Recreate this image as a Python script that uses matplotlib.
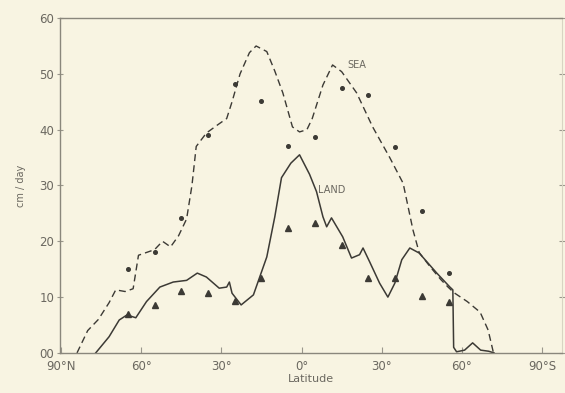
import matplotlib.pyplot as plt

# latitude: negative = north, positive = south
sea_lat = [-84, -80, -76, -72, -69.5, -66, -63, -61, -58, -55, -52, -49, -46, -43, -41,
           -39.4, -35.6, -31, -28, -26, -23, -19.5, -17, -13, -10, -7, -3.4, -0.75, 2, 4,
           8, 11.6, 15, 20.6, 26.6, 33, 38, 41.7, 44, 48, 52, 54.8, 57, 62, 66.8, 69.8, 71.8]
sea_val = [0, 4, 6, 9, 11.3, 11, 11.5, 17.5, 18, 18.5, 20, 19, 21, 24, 30,
           37, 39.4, 41, 42, 45, 50, 53.8, 55, 54, 50.5, 46.6, 40.5, 39.6, 40, 42,
           48, 51.6, 50.4, 46.6, 40.5, 35, 30.4, 22, 18, 15.5, 13.2, 11.8, 10.8, 9.2, 7.3, 4.1, 0]

land_lat = [-77, -72, -68.2, -65.3, -62, -58, -53, -48, -43, -39, -35.6, -30.8, -28, -27,
            -26, -22.6, -18, -13, -10, -7.5, -4, -0.75, 3, 5.6, 8, 9.4, 11.2, 15.4, 18.7,
            21.7, 23, 25.5, 29.2, 32.3, 34.9, 37.5, 40.5, 44, 50.6, 55.5, 56.6, 56.9, 58,
            61, 64, 67, 70, 72]
land_val = [0, 2.9, 5.9, 6.8, 6.3, 9.2, 11.8, 12.7, 13, 14.3, 13.6, 11.6, 11.8, 12.7,
            10.7, 8.6, 10.4, 17.2, 24.4, 31.4, 34, 35.5, 32, 28.9, 24.4, 22.6, 24.2, 20.8, 17,
            17.6, 18.8, 16.3, 12.5, 10, 12.5, 16.7, 18.8, 17.9, 14.3, 11.8, 11.3, 1, 0.2,
            0.5, 1.8, 0.5, 0.3, 0]

obs_lat = [-65, -55, -45, -35, -25, -15, -5, 5, 15, 25, 35, 45, 55]
sea_obs = [15, 18, 24.2, 39, 48.2, 45.2, 37.1, 38.7, 47.5, 46.2, 36.9, 25.5, 14.3]
land_obs = [7, 8.6, 11.1, 10.7, 9.3, 13.4, 22.4, 23.3, 19.4, 13.4, 13.4, 10.2, 9.1]

xticks = [-90, -60, -30, 0, 30, 60, 90]
xlabels = ["90°N", "60°", "30°", "0°", "30°", "60°", "90°S"]
yticks = [0, 10, 20, 30, 40, 50, 60]
ylabels = ["00", "10", "20", "30", "40", "50", "60"]

bg = "#f8f4e2"
ink = "#3c3a35"
txt = "#6b6860"

fig = plt.figure(figsize=(5.65, 3.93), dpi=100, facecolor=bg)
ax = fig.add_axes([0.106, 0.102, 0.889, 0.852], facecolor=bg)

ax.plot(sea_lat, sea_val, color=ink, lw=1.0, dashes=(5, 3))
ax.plot(land_lat, land_val, color=ink, lw=1.1, solid_joinstyle="round")
ax.plot(obs_lat, sea_obs, "o", color=ink, ms=2.6, ls="none")
ax.plot(obs_lat, land_obs, "^", color=ink, ms=3.8, ls="none")

ax.text(17.3, 51.6, "SEA", fontsize=7, color=txt, va="center")
ax.text(6, 29.2, "LAND", fontsize=7, color=txt, va="center")

ax.set_xlim(-90.4, 97.5)
ax.set_ylim(0, 60)
ax.set_xticks(xticks)
ax.set_xticklabels(xlabels, fontsize=8.5, color=txt)
ax.set_yticks(yticks)
ax.set_yticklabels(ylabels, fontsize=8.5, color=txt)
ax.tick_params(axis="x", direction="in", length=4, color="#9a978c", pad=5)
ax.tick_params(axis="y", direction="inout", length=4, color="#9a978c", pad=2,
               right=True)
ax.set_xlabel("Latitude", fontsize=8, color=txt, labelpad=1)
ax.set_ylabel("cm / day", fontsize=7, color=txt, labelpad=10)

for side in ["left", "bottom", "top"]:
    ax.spines[side].set_color("#8a877c")
    ax.spines[side].set_linewidth(1.0)
ax.spines["right"].set_color("#d8d4c2")
ax.spines["right"].set_linewidth(0.8)

fig.savefig("out.png", dpi=100, facecolor=bg)
